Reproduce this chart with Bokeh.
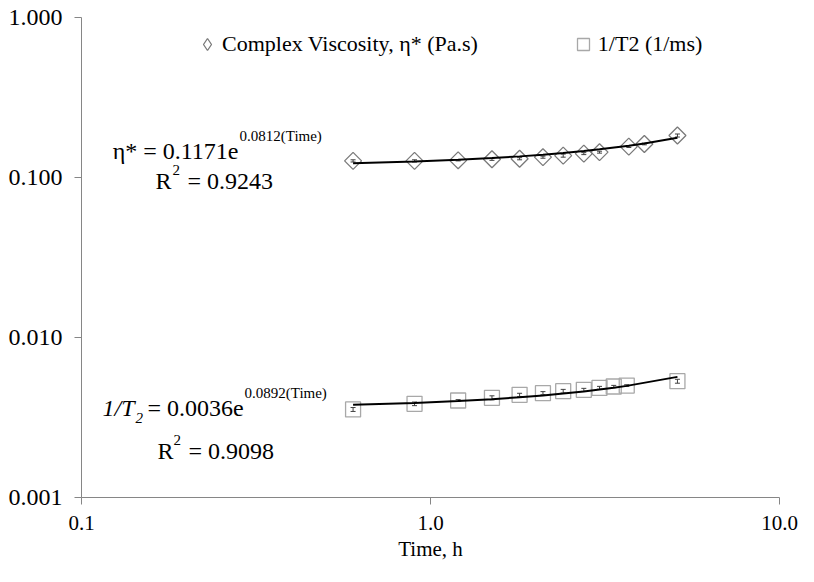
import numpy as np
from bokeh.plotting import figure
from bokeh.models import (ColumnDataSource, FixedTicker, PrintfTickFormatter, Label,
                          Legend, LegendItem, Whisker, TeeHead, Range1d)
from bokeh.embed import file_html
from bokeh.resources import INLINE

# ---- data ----
time_visc = [0.6, 0.9, 1.2, 1.5, 1.8, 2.1, 2.4, 2.75, 3.05, 3.7, 4.1, 5.1]
viscosity = [0.127, 0.127, 0.128, 0.130, 0.131, 0.134, 0.137, 0.141, 0.144, 0.156, 0.162, 0.183]
visc_err = [0.002, 0.002, 0.001, 0.002, 0.002, 0.002, 0.003, 0.002, 0.002, 0.002, 0.002, 0.004]

time_t2 = [0.6, 0.9, 1.2, 1.5, 1.8, 2.1, 2.4, 2.75, 3.05, 3.35, 3.65, 5.1]
inv_t2 = [0.00355, 0.00385, 0.00404, 0.00420, 0.00438, 0.00449, 0.00462, 0.00471,
          0.00485, 0.00494, 0.00501, 0.00533]
t2_err = [0.00010, 0.00010, 0.00005, 0.00012, 0.00010, 0.00010, 0.00012, 0.00010,
          0.00010, 0.00008, 0.00006, 0.00015]

visc_fit_a, visc_fit_b = 0.1171, 0.0812
t2_fit_a, t2_fit_b = 0.0036, 0.0892

x_ticks = [0.1, 1, 10]
y_ticks = [0.001, 0.01, 0.1, 1]

SERIF = "'Liberation Serif', 'Times New Roman', 'DejaVu Serif', serif"

p = figure(width=798, height=566, x_axis_type="log", y_axis_type="log",
           x_range=Range1d(0.1, 10), y_range=Range1d(0.001, 1),
           output_backend="svg", toolbar_location=None,
           min_border_left=81, min_border_right=19, min_border_top=17, min_border_bottom=69)
p.grid.visible = False
p.outline_line_color = None
p.background_fill_color = "white"
p.border_fill_color = "white"

axis_col = "#868686"
for ax in (p.xaxis[0], p.yaxis[0]):
    ax.axis_line_color = axis_col
    ax.major_tick_line_color = axis_col
    ax.major_tick_in = 0
    ax.major_tick_out = 7
    ax.minor_tick_line_color = None
    ax.major_label_text_font = SERIF
    ax.major_label_text_color = "black"

p.xaxis.ticker = FixedTicker(ticks=x_ticks, minor_ticks=[])
p.xaxis.formatter = PrintfTickFormatter(format="%.1f")
p.xaxis.major_label_text_font_size = "21px"
p.xaxis.major_label_standoff = 11
p.xaxis.axis_label = "Time, h"
p.xaxis.axis_label_text_font = SERIF
p.xaxis.axis_label_text_font_size = "21px"
p.xaxis.axis_label_text_font_style = "normal"
p.xaxis.axis_label_text_color = "black"
p.xaxis.axis_label_standoff = 4

p.yaxis.ticker = FixedTicker(ticks=y_ticks, minor_ticks=[])
p.yaxis.formatter = PrintfTickFormatter(format="%.3f")
p.yaxis.major_label_text_font_size = "24px"
p.yaxis.major_label_standoff = 12

# ---- series ----
src_v = ColumnDataSource(dict(
    t=time_visc, v=viscosity,
    up=[a + b for a, b in zip(viscosity, visc_err)],
    lo=[a - b for a, b in zip(viscosity, visc_err)],
    fit=[visc_fit_a * np.exp(visc_fit_b * t) for t in time_visc]))
src_t = ColumnDataSource(dict(
    t=time_t2, v=inv_t2,
    up=[a + b for a, b in zip(inv_t2, t2_err)],
    lo=[a - b for a, b in zip(inv_t2, t2_err)],
    fit=[t2_fit_a * np.exp(t2_fit_b * t) for t in time_t2]))

VISC_COL = "#7a7a7a"
T2_COL = "#a8a8a8"

r_visc = p.scatter("t", "v", source=src_v, marker="square", angle=np.pi / 4, size=12,
                   fill_color=None, line_color=VISC_COL, line_width=1.3)
r_t2 = p.scatter("t", "v", source=src_t, marker="square", size=15,
                 fill_color=None, line_color=T2_COL, line_width=1.3)

p.line("t", "fit", source=src_v, line_color="black", line_width=2)
p.line("t", "fit", source=src_t, line_color="black", line_width=2)

for src in (src_v, src_t):
    p.add_layout(Whisker(source=src, base="t", upper="up", lower="lo", dimension="height",
                         line_color="#404040", line_width=1,
                         upper_head=TeeHead(size=5, line_color="#404040", line_width=1),
                         lower_head=TeeHead(size=5, line_color="#404040", line_width=1)))

# hidden renderer of the same data, used only for the diamond legend symbol
leg_visc = p.scatter("t", "v", source=src_v, marker="diamond", fill_color=None,
                     line_color=VISC_COL, line_width=1.3, visible=False)

# ---- legend ----
legend = Legend(items=[LegendItem(label="Complex Viscosity, η* (Pa.s)", renderers=[leg_visc]),
                       LegendItem(label="1/T2 (1/ms)", renderers=[r_t2])],
                orientation="horizontal", location=(111, 438), padding=0, margin=0,
                spacing=90, glyph_width=30, glyph_height=30, label_height=30,
                label_standoff=0, border_line_color=None, background_fill_alpha=0,
                inactive_fill_alpha=0,
                label_text_font=SERIF, label_text_font_size="22px",
                label_text_color="black")
p.add_layout(legend)

# ---- trendline equations ----
def lab(x, y, text, size, align="left", style="normal"):
    p.add_layout(Label(x=x, y=y, x_units="screen", y_units="screen", text=text,
                       text_font=SERIF, text_font_size=size, text_align=align,
                       text_baseline="alphabetic", text_font_style=style,
                       text_color="black"))

lab(157, 347, "η* = 0.1171e", "24px", align="right")
lab(158, 362, "0.0812(Time)", "15px")
lab(74, 317, "R", "24px")
lab(91, 328, "2", "15px")
lab(106, 317, "= 0.9243", "24px")

lab(21, 90, "1/T", "24px", style="italic")
lab(54, 80, "2", "15px", style="italic")
lab(66, 90, "= 0.0036e", "24px")
lab(163, 105, "0.0892(Time)", "15px")
lab(76, 47, "R", "24px")
lab(92, 58, "2", "15px")
lab(107, 47, "= 0.9098", "24px")

open("out.html", "w").write(file_html(p, INLINE))
